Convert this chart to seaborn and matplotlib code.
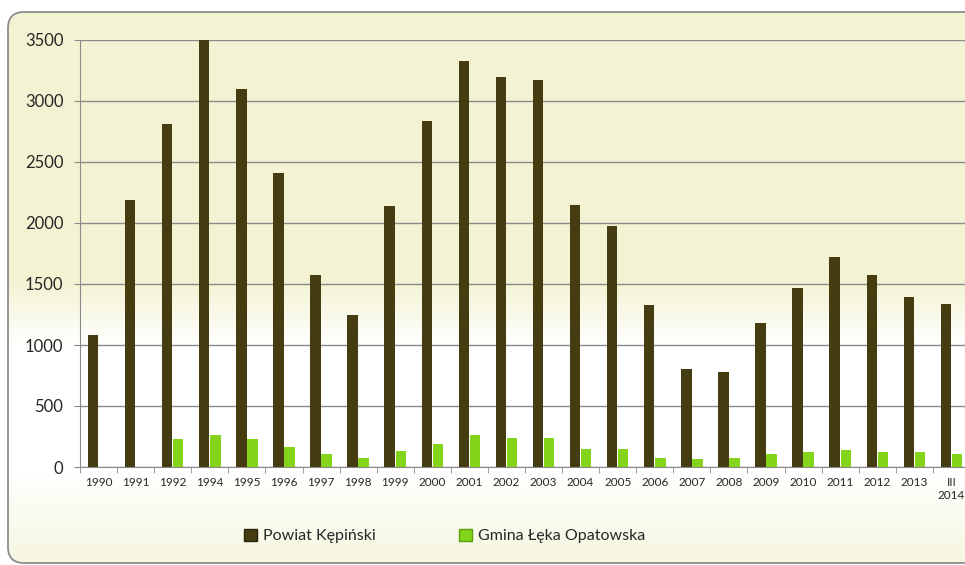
import matplotlib.pyplot as plt
import pandas as pd
import seaborn as sns
import numpy as np
from matplotlib.patches import FancyBboxPatch, Patch

# Data
years = ['1990', '1991', '1992', '1994', '1995', '1996', '1997', '1998', '1999',
         '2000', '2001', '2002', '2003', '2004', '2005', '2006', '2007', '2008',
         '2009', '2010', '2011', '2012', '2013', 'III\n2014']
powiat = [1080, 2190, 2810, 3500, 3100, 2410, 1575, 1250, 2140, 2840, 3330, 3200,
          3170, 2150, 1975, 1330, 800, 780, 1180, 1470, 1720, 1575, 1390, 1340]
gmina = [0, 0, 230, 262, 230, 160, 107, 74, 130, 185, 262, 238,
         238, 148, 145, 74, 62, 74, 107, 123, 139, 123, 123, 107]
series_names = ['Powiat Kępiński', 'Gmina Łęka Opatowska']
colors = ['#453c12', '#84d41c']

df = pd.DataFrame({
    'rok': years * 2,
    'wartosc': powiat + gmina,
    'seria': [series_names[0]] * len(years) + [series_names[1]] * len(years),
})

sns.set_style('white')
plt.rcParams['font.family'] = ['Lato', 'DejaVu Sans']

fig = plt.figure(figsize=(9.65, 5.65), dpi=100)
fig.patch.set_facecolor('white')

# background: rounded frame with a cream / white gradient
frame = FancyBboxPatch((0.08, 0.02), 10.0, 5.51,
                       boxstyle='round,pad=0,rounding_size=0.16',
                       transform=fig.dpi_scale_trans,
                       facecolor='none', edgecolor='#8c8c8c', linewidth=1.3, zorder=2)
bg_ax = fig.add_axes([0, 0, 1, 1], zorder=-5)
bg_ax.set_axis_off()
cream_top = np.array([243, 243, 211]) / 255
cream_bot = np.array([246, 246, 224]) / 255
white = np.array([1.0, 1.0, 1.0])
grad = np.zeros((565, 1, 3))
for r in range(565):
    if r < 280:
        c = cream_top
    elif r < 345:
        t = (r - 280) / 65
        c = cream_top * (1 - t) + white * t
    elif r < 470:
        c = white
    else:
        t = (r - 470) / 95
        c = white * (1 - t) + cream_bot * t
    grad[r, 0] = c
img = bg_ax.imshow(grad, aspect='auto', extent=[0, 1, 0, 1], transform=fig.transFigure)
img.set_clip_path(frame)
fig.add_artist(frame)

ax = fig.add_axes([80 / 965, 1 - 467 / 565, 890 / 965, 427 / 565])
ax.patch.set_alpha(0)

sns.barplot(data=df, x='rok', y='wartosc', hue='seria', palette=colors,
            width=0.6, gap=0.06, saturation=1, ax=ax, legend=False, zorder=3,
            linewidth=0, edgecolor='none')

ax.set_ylim(0, 3500)
ax.set_xlim(-0.5, len(years) - 0.5)
ax.set_yticks(np.arange(0, 3501, 500))
ax.yaxis.grid(True, color='#8a8a8a', linewidth=1.0)
ax.set_axisbelow(True)
for s in ['top', 'right']:
    ax.spines[s].set_visible(False)
ax.spines['left'].set_color('#8a8a8a')
ax.spines['bottom'].set_color('#8a8a8a')
ax.set_xlabel('')
ax.set_ylabel('')
ax.tick_params(axis='y', labelsize=12, length=4, color='#8a8a8a', left=True, pad=8)
ax.tick_params(axis='x', labelsize=8.5, length=0, pad=7)
ax.set_xticks(np.arange(-0.5, len(years), 1), minor=True)
ax.tick_params(axis='x', which='minor', length=4, color='#8a8a8a', bottom=True)

handles = [Patch(facecolor=colors[0], edgecolor='#2a2408'),
           Patch(facecolor=colors[1], edgecolor='#5aa010')]
fig.legend(handles, series_names, loc='center', bbox_to_anchor=(445 / 965, 1 - 536 / 565),
           ncol=2, frameon=False, fontsize=11.5, handlelength=0.8, handleheight=0.8,
           handletextpad=0.4, columnspacing=5.2)

fig.savefig('out.png', dpi=100)
